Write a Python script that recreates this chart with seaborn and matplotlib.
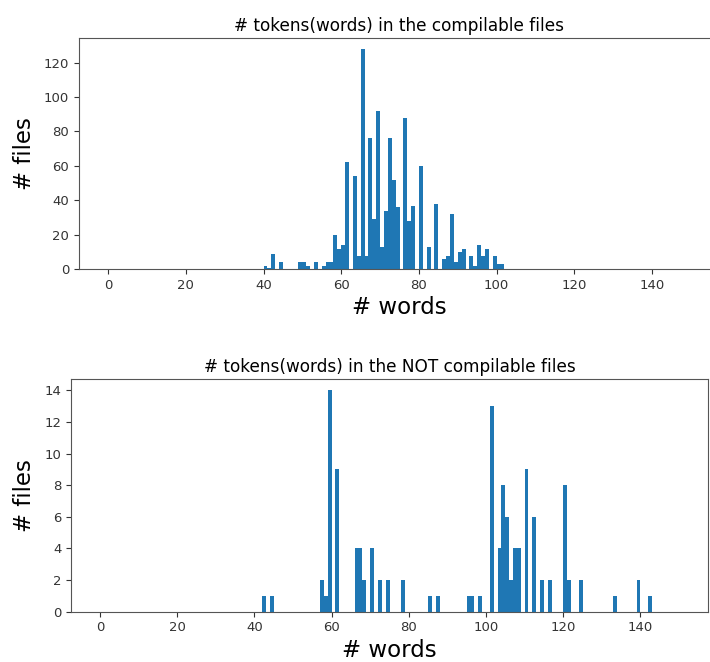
import matplotlib
matplotlib.use("Agg")
import matplotlib.pyplot as plt
import seaborn as sns
import numpy as np

# word counts (number of tokens) and how many files have that count
comp_words = [40, 41, 42, 44, 49, 50, 51, 53, 55, 56, 57, 58, 59, 60, 61, 63, 64, 65,
              66, 67, 68, 69, 70, 71, 72, 73, 74, 76, 77, 78, 80, 82, 84, 86, 87, 88,
              89, 90, 91, 93, 94, 95, 96, 97, 99, 100, 101]
comp_files = [2, 1, 9, 4, 4, 4, 2, 4, 2, 4, 4, 20, 12, 14, 62, 54, 8, 128,
              8, 76, 29, 92, 13, 34, 76, 52, 36, 88, 28, 37, 60, 13, 38, 6, 8, 32,
              4, 10, 12, 8, 2, 14, 8, 12, 8, 3, 3]

notcomp_words = [42, 44, 57, 58, 59, 61, 66, 67, 68, 70, 72, 74, 78, 85, 87, 95, 96, 98,
                 101, 103, 104, 105, 106, 107, 108, 110, 112, 114, 116, 120, 121, 124,
                 133, 139, 142]
notcomp_files = [1, 1, 2, 1, 14, 9, 4, 4, 2, 4, 2, 2, 2, 1, 1, 1, 1, 1,
                 13, 4, 8, 6, 2, 4, 4, 9, 6, 2, 2, 8, 2, 2,
                 1, 2, 1]

titles = ["# tokens(words) in the compilable files",
          "# tokens(words) in the NOT compilable files"]
xticks = [0, 20, 40, 60, 80, 100, 120, 140]
top_yticks = [0, 20, 40, 60, 80, 100, 120]
bot_yticks = [0, 2, 4, 6, 8, 10, 12, 14]

W, H = 710, 662
fig = plt.figure(figsize=(W / 100, H / 100), dpi=100)

def px_axes(l, t, r, b):
    return fig.add_axes([l / W, 1 - b / H, (r - l) / W, (b - t) / H])

ax1 = px_axes(79, 37.7, 720, 269.3)
ax2 = px_axes(71, 379.3, 708, 611.7)

blue = "#1f77b4"
for ax, xs, ws, title, yt in [(ax1, comp_words, comp_files, titles[0], top_yticks),
                              (ax2, notcomp_words, notcomp_files, titles[1], bot_yticks)]:
    sns.histplot(x=xs, weights=ws, bins=150, binrange=(0, 150), ax=ax,
                 color=blue, alpha=1, edgecolor="none", linewidth=0, stat="count")
    ax.set_xlim(-7.5, 157.5)
    ax.set_xticks(xticks)
    ax.set_yticks(yt)
    ax.set_title(title, fontsize=12.2, pad=5)
    ax.set_xlabel("# words", fontsize=16.5, labelpad=3)
    ax.set_ylabel("# files", fontsize=16.5, labelpad=6)
    ax.tick_params(labelsize=9.5, colors="#333333")
    for s in ax.spines.values():
        s.set_color("#555555")

ax1.set_ylim(0, 134.4)
ax2.set_ylim(0, 14.7)

fig.savefig("out.png", dpi=100)
